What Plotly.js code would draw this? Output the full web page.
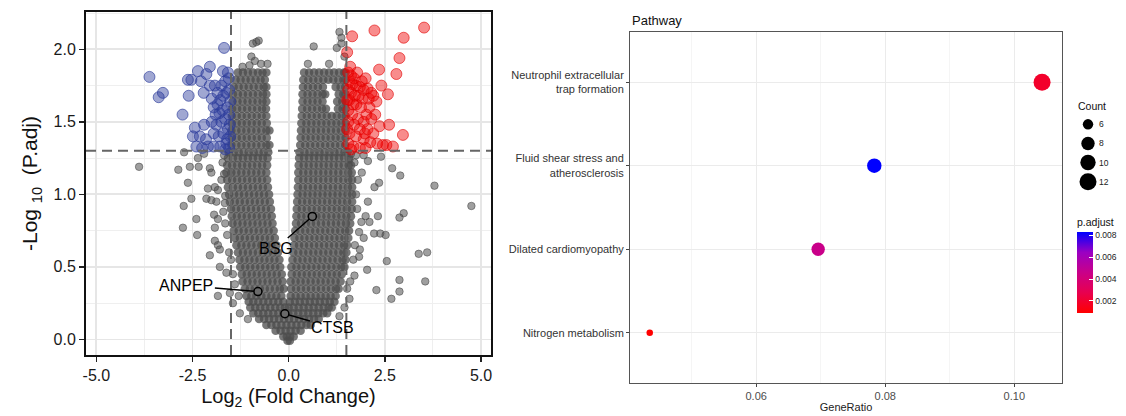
<!DOCTYPE html>
<html><head><meta charset="utf-8">
<script src="https://cdn.plot.ly/plotly-3.0.1.min.js"></script>
<style>html,body{margin:0;padding:0;background:#fff}#chart{width:1126px;height:416px}</style>
</head><body><div id="chart"></div>
<script>
// ---------- Volcano plot data (log2 fold change, -log10 p.adj) ----------
const grayRowsY = [-0.01,0.02,0.06,0.10,0.14,0.18,0.22,0.26,0.30,0.35,0.40,0.45,0.50,0.55,0.60,0.65,0.70,0.75,0.80,0.85,0.90,0.95,1.00,1.05,1.10,1.15,1.20,1.25,1.29,1.34,1.39,1.44,1.49,1.54,1.59,1.64,1.69,1.74,1.79,1.84];
const grayRowsX = [
 [-0.03,0.03],
 [-0.14,-0.05,0.04,0.13],
 [-0.34,-0.21,-0.08,0.05,0.18,0.31],
 [-0.58,-0.45,-0.32,-0.19,-0.06,0.07,0.2,0.33,0.46,0.57],
 [-0.77,-0.64,-0.51,-0.38,-0.25,-0.12,0.01,0.14,0.27,0.4,0.53,0.66,0.78],
 [-0.92,-0.79,-0.66,-0.53,-0.4,-0.27,-0.14,-0.01,0.12,0.25,0.38,0.51,0.64,0.77,0.9,1.0],
 [-1.0,-0.87,-0.74,-0.61,-0.48,-0.35,-0.22,-0.1,0.0,0.13,0.26,0.39,0.52,0.65,0.78,0.91,1.04,1.12],
 [-1.04,-0.92,-0.79,-0.66,-0.53,-0.4,-0.27,-0.14,0.03,0.16,0.29,0.42,0.55,0.68,0.81,0.94,1.07,1.19],
 [-1.1,-0.97,-0.84,-0.71,-0.58,-0.45,-0.32,-0.19,0.05,0.18,0.31,0.44,0.57,0.7,0.83,0.96,1.09,1.22],
 [-1.14,-1.01,-0.88,-0.75,-0.62,-0.49,-0.36,-0.23,-0.13,0.06,0.19,0.32,0.45,0.58,0.71,0.84,0.97,1.1,1.23,1.3],
 [-1.2,-1.07,-0.94,-0.81,-0.68,-0.55,-0.42,-0.29,-0.16,0.05,0.18,0.31,0.44,0.57,0.7,0.83,0.96,1.09,1.22,1.35],
 [-1.22,-1.09,-0.96,-0.83,-0.7,-0.57,-0.44,-0.31,-0.18,0.08,0.21,0.34,0.47,0.6,0.73,0.86,0.99,1.12,1.25,1.38],
 [-1.26,-1.13,-1.0,-0.87,-0.74,-0.61,-0.48,-0.35,-0.22,0.07,0.2,0.33,0.46,0.59,0.72,0.85,0.98,1.11,1.24,1.37,1.45],
 [-1.28,-1.15,-1.02,-0.89,-0.76,-0.63,-0.5,-0.37,-0.24,0.1,0.23,0.36,0.49,0.62,0.75,0.88,1.01,1.14,1.27,1.4,1.48],
 [-1.32,-1.19,-1.06,-0.93,-0.8,-0.67,-0.54,-0.41,-0.28,0.12,0.25,0.38,0.51,0.64,0.77,0.9,1.03,1.16,1.29,1.42,1.5],
 [-1.36,-1.23,-1.1,-0.97,-0.84,-0.71,-0.58,-0.45,-0.32,0.14,0.27,0.4,0.53,0.66,0.79,0.92,1.05,1.18,1.31,1.44,1.52],
 [-1.4,-1.27,-1.14,-1.01,-0.88,-0.75,-0.62,-0.49,-0.36,0.15,0.28,0.41,0.54,0.67,0.8,0.93,1.06,1.19,1.32,1.45,1.55],
 [-1.43,-1.3,-1.17,-1.04,-0.91,-0.78,-0.65,-0.52,-0.39,0.17,0.3,0.43,0.56,0.69,0.82,0.95,1.08,1.21,1.34,1.47,1.57],
 [-1.46,-1.33,-1.2,-1.07,-0.94,-0.81,-0.68,-0.55,-0.42,0.19,0.32,0.45,0.58,0.71,0.84,0.97,1.1,1.23,1.36,1.49,1.6],
 [-1.48,-1.35,-1.22,-1.09,-0.96,-0.83,-0.7,-0.57,-0.44,0.2,0.33,0.46,0.59,0.72,0.85,0.98,1.11,1.24,1.37,1.5,1.62],
 [-1.5,-1.37,-1.24,-1.11,-0.98,-0.85,-0.72,-0.59,-0.46,0.21,0.34,0.47,0.6,0.73,0.86,0.99,1.12,1.25,1.38,1.51,1.64],
 [-1.53,-1.4,-1.27,-1.14,-1.01,-0.88,-0.75,-0.62,-0.49,0.22,0.35,0.48,0.61,0.74,0.87,1.0,1.13,1.26,1.39,1.52,1.65],
 [-1.55,-1.42,-1.29,-1.16,-1.03,-0.9,-0.77,-0.64,-0.51,0.23,0.36,0.49,0.62,0.75,0.88,1.01,1.14,1.27,1.4,1.53,1.65],
 [-1.58,-1.45,-1.32,-1.19,-1.06,-0.93,-0.8,-0.67,-0.54,0.24,0.37,0.5,0.63,0.76,0.89,1.02,1.15,1.28,1.41,1.54,1.65],
 [-1.6,-1.47,-1.34,-1.21,-1.08,-0.95,-0.82,-0.69,-0.56,0.25,0.38,0.51,0.64,0.77,0.9,1.03,1.16,1.29,1.42,1.55,1.65],
 [-1.62,-1.49,-1.36,-1.23,-1.1,-0.97,-0.84,-0.71,-0.58,0.25,0.38,0.51,0.64,0.77,0.9,1.03,1.16,1.29,1.42,1.55,1.64],
 [-1.6,-1.47,-1.34,-1.21,-1.08,-0.95,-0.82,-0.69,-0.56,0.26,0.39,0.52,0.65,0.78,0.91,1.04,1.17,1.3,1.43,1.56,1.62],
 [-1.58,-1.45,-1.32,-1.19,-1.06,-0.93,-0.8,-0.67,-0.55,0.27,0.4,0.53,0.66,0.79,0.92,1.05,1.18,1.31,1.44,1.56],
 [-1.56,-1.43,-1.3,-1.17,-1.04,-0.91,-0.78,-0.65,-0.53,0.28,0.41,0.54,0.67,0.8,0.93,1.06,1.19,1.32,1.45,1.53],
 [-1.49,-1.36,-1.23,-1.1,-0.97,-0.84,-0.71,-0.58,-0.5,0.3,0.43,0.56,0.69,0.82,0.95,1.08,1.21,1.34,1.47],
 [-1.48,-1.35,-1.22,-1.09,-0.96,-0.83,-0.7,-0.57,0.31,0.44,0.57,0.7,0.83,0.96,1.09,1.22,1.35,1.48],
 [-1.49,-1.36,-1.23,-1.1,-0.97,-0.84,-0.71,-0.58,-0.5,0.32,0.45,0.58,0.71,0.84,0.97,1.1,1.23,1.36,1.48],
 [-1.48,-1.35,-1.22,-1.09,-0.96,-0.83,-0.7,-0.57,0.33,0.46,0.59,0.72,0.85,0.98,1.11,1.24,1.37,1.48],
 [-1.48,-1.35,-1.22,-1.09,-0.96,-0.83,-0.7,-0.58,0.34,0.47,0.6,0.73,0.86,0.99,1.12,1.25,1.38,1.48],
 [-1.47,-1.34,-1.21,-1.08,-0.95,-0.82,-0.69,-0.59,0.35,0.48,0.61,0.74,0.87,0.97,1.28,1.4,1.48],
 [-1.46,-1.33,-1.2,-1.07,-0.94,-0.81,-0.68,-0.58,0.36,0.49,0.62,0.75,0.88,1.26,1.39,1.48],
 [-1.45,-1.32,-1.19,-1.06,-0.93,-0.8,-0.67,-0.58,0.36,0.49,0.62,0.75,0.88,0.95,1.3,1.42,1.48],
 [-1.43,-1.3,-1.17,-1.04,-0.91,-0.78,-0.65,-0.58,0.37,0.5,0.63,0.76,0.89,1.22,1.35,1.47],
 [-1.38,-1.25,-1.12,-0.99,-0.86,-0.73,-0.62,0.38,0.51,0.64,0.77,0.9,1.03,1.16,1.29,1.42,1.48],
 [-1.32,-1.19,-1.06,-0.93,-0.8,-0.68,-0.58,0.4,0.53,0.66,0.79,0.92,1.05,1.18,1.31,1.44,1.48]
];
const grayOutX = [-3.89,-2.87,-2.57,-2.34,-2.72,-2.36,-2.05,-2.01,-2.62,-2.10,-1.92,-1.84,-2.53,-2.14,-2.01,-1.88,-2.73,-1.66,-1.94,-2.40,-1.84,-2.75,-1.92,-2.38,-1.92,-1.84,-1.79,-2.05,-1.79,-1.62,-1.84,-1.53,-1.45,-1.27,-1.06,-1.72,-1.75,-1.70,-1.65,-1.60,-1.55,-1.50,-1.45,-1.40,-1.30,-0.93,-0.84,-0.78,-0.97,-0.88,-1.02,-0.72,-1.20,-0.55,-2.20,-1.68,-1.68,-1.65,
  2.06,2.69,2.90,2.35,2.23,3.79,4.75,2.99,2.88,2.32,2.06,1.83,2.22,2.38,2.52,1.83,2.04,2.55,3.38,3.60,3.55,2.88,2.28,2.88,2.67,1.71,1.58,1.45,1.32,1.58,1.71,2.00,2.10,1.89,1.80,1.75,1.78,1.72,1.68,1.60,1.52,1.90,1.85,1.95,0.65,1.25,1.32,1.37,1.37,1.45,0.50,1.05,1.62,1.75,1.95,2.40];
const grayOutY = [1.19,1.17,1.19,1.19,1.29,1.25,1.18,1.15,1.08,1.04,1.05,1.03,0.97,0.97,0.96,0.95,0.92,0.94,0.86,0.83,0.83,0.77,0.77,0.72,0.68,0.65,0.62,0.58,0.50,0.46,0.30,0.32,0.25,0.18,0.14,1.22,1.10,0.88,0.80,0.72,0.60,0.55,0.45,0.38,0.30,2.04,2.05,2.06,1.95,1.92,1.89,1.90,1.88,1.90,1.28,1.27,1.14,0.99,
  1.23,1.18,1.13,1.08,1.05,1.06,0.92,0.87,0.84,0.85,0.95,0.74,0.73,0.73,0.72,0.57,0.48,0.54,0.59,0.60,0.40,0.41,0.34,0.33,0.28,0.44,0.28,0.22,0.16,1.24,1.22,0.85,0.81,0.81,1.10,1.00,0.90,0.65,0.55,0.40,0.35,1.15,0.62,0.70,2.02,2.01,2.12,2.08,2.04,1.95,1.90,1.90,1.28,1.27,1.27,1.26];
const downX = [-3.62,-3.38,-3.27,-2.76,-2.60,-2.62,-2.53,-2.36,-2.05,-2.14,-2.21,-2.05,-1.71,-1.58,-1.75,-1.68,-2.44,-2.31,-2.40,-2.10,-1.62,-2.49,-2.28,-2.00,-1.95,-1.85,-1.78,-1.70,-1.62,-1.55,-1.90,-1.80,-1.72,-1.60,-1.55,-2.00,-1.88,-1.75,-1.65,-1.58,-2.20,-1.95,-1.82,-1.70,-1.60,-2.15,-1.95,-1.78,-1.65,-1.55,-2.25,-1.85,-1.92,-1.56,-1.65,-1.52,-1.53,-1.52];
const downY = [1.81,1.67,1.70,1.55,1.68,1.79,1.79,1.85,1.88,1.83,1.70,1.75,1.85,1.84,1.75,2.01,1.46,1.40,1.33,1.33,1.35,1.40,1.78,1.66,1.60,1.62,1.65,1.68,1.70,1.72,1.55,1.56,1.58,1.60,1.55,1.50,1.48,1.50,1.52,1.45,1.48,1.42,1.40,1.42,1.38,1.38,1.33,1.33,1.31,1.32,1.32,1.70,1.75,1.80,1.78,1.64,1.48,1.40];
const upX = [3.52,2.23,2.99,1.65,1.52,2.88,2.35,2.80,2.58,2.97,2.71,2.36,2.54,2.28,2.41,2.02,1.76,2.61,1.55,1.62,1.70,1.58,1.66,1.75,1.85,1.95,2.05,2.15,1.55,1.62,1.72,1.82,1.92,2.08,2.20,1.57,1.68,1.88,2.10,1.55,1.65,1.80,1.95,2.15,1.55,1.70,1.85,2.05,2.20,1.58,1.75,1.95,2.12,2.30,1.55,1.68,1.85,2.00,2.45,1.62,1.90,2.00,1.78,1.52,1.52,1.60,2.25,1.98];
const upY = [2.15,2.13,2.08,2.09,1.98,1.94,1.86,1.83,1.69,1.41,1.33,1.47,1.34,1.64,1.75,1.55,1.62,1.48,1.84,1.82,1.80,1.78,1.76,1.75,1.74,1.72,1.73,1.70,1.72,1.70,1.68,1.68,1.66,1.66,1.68,1.65,1.62,1.60,1.60,1.58,1.55,1.52,1.50,1.52,1.50,1.48,1.45,1.45,1.42,1.42,1.40,1.38,1.36,1.35,1.35,1.33,1.32,1.32,1.34,1.31,1.78,1.80,1.84,1.65,1.45,1.88,1.55,1.42];
const labelGenes = ['BSG','ANPEP','CTSB'];
const labelX = [0.615,-0.80,-0.10];
const labelY = [0.848,0.33,0.177];
const labelTextX = [-0.32,-2.66,1.15];
const labelTextY = [0.63,0.37,0.08];
const fcCut = 1.5, pCut = 1.301;
const xTicks = [-5,-2.5,0,2.5,5], xTickText = ['-5.0','-2.5','0.0','2.5','5.0'];
const yTicks = [0,0.5,1,1.5,2], yTickText = ['0.0','0.5','1.0','1.5','2.0'];

// ---------- KEGG dot plot data ----------
const pathways = ['Neutrophil extracellular<br>trap formation','Fluid shear stress and<br>atherosclerosis','Dilated cardiomyopathy','Nitrogen metabolism'];
const geneRatio = [0.1043,0.0783,0.0696,0.0435];
const counts = [12,9,8,5];
const pAdjust = [0.0019,0.0083,0.0046,0.0009];
const countLegend = [6,8,10,12];
const pTicks = [0.002,0.004,0.006,0.008], pTickText = ['0.002','0.004','0.006','0.008'];
const grTicks = [0.06,0.08,0.10], grTickText = ['0.06','0.08','0.10'];

// flatten gray rows
const denseX = [], denseY = [];
grayRowsX.forEach((row,i)=>row.forEach(v=>{denseX.push(v);denseY.push(grayRowsY[i]);}));

const cMin = Math.min(...counts), cMax = Math.max(...counts);
const sz = c => 6.5 + 10.5*Math.sqrt(Math.max(0,(c-cMin))/(cMax-cMin));

const F = 'Liberation Sans, Arial, sans-serif';
const traces = [
 {type:'scatter',mode:'markers',x:grayOutX,y:grayOutY,xaxis:'x',yaxis:'y',hoverinfo:'skip',
  marker:{size:7.5,color:'rgba(80,80,80,0.55)',line:{color:'rgba(70,70,70,0.55)',width:1}}},
 {type:'scatter',mode:'markers',x:denseX,y:denseY,xaxis:'x',yaxis:'y',hoverinfo:'skip',
  marker:{size:8.5,color:'rgba(76,76,76,0.76)',line:{width:0}}},
 {type:'scatter',mode:'markers',x:downX,y:downY,xaxis:'x',yaxis:'y',
  marker:{size:11,color:'rgba(45,60,155,0.45)',line:{color:'rgba(45,60,155,0.65)',width:1}}},
 {type:'scatter',mode:'markers',x:upX,y:upY,xaxis:'x',yaxis:'y',
  marker:{size:11,color:'rgba(240,0,0,0.45)',line:{color:'rgba(225,0,0,0.6)',width:1}}},
 {type:'scatter',mode:'markers',x:labelX,y:labelY,xaxis:'x',yaxis:'y',
  marker:{size:8,color:'#6a6a6a',line:{color:'#000',width:1.5}}},
 {type:'scatter',mode:'markers',x:geneRatio,y:pathways,xaxis:'x2',yaxis:'y2',
  marker:{size:counts.map(sz),color:pAdjust,cmin:0.0009,cmax:0.0083,opacity:1,
   colorscale:[[0,'#FF0000'],[0.25,'rgb(232,0,79)'],[0.5,'rgb(201,0,137)'],[0.75,'rgb(154,0,195)'],[1,'#0000FF']],
   line:{width:0},
   colorbar:{x:1077/1126,xanchor:'left',y:1-215/416,yanchor:'top',len:98,lenmode:'pixels',thickness:16,
    outlinewidth:0,xpad:0,ypad:0,tickvals:pTicks,ticktext:pTickText,ticks:'inside',ticklen:4,tickcolor:'#fff',
    tickfont:{size:8.5,color:'#222',family:F},title:{text:'p.adjust',side:'top',font:{size:10.5,color:'#111',family:F}}}}},
 {type:'scatter',mode:'markers',x:countLegend.map(()=>0),y:countLegend,xaxis:'x3',yaxis:'y3',
  marker:{size:countLegend.map(sz),color:'#000',opacity:1,line:{width:0}}}
];

const shapes = [
 {type:'line',xref:'x',yref:'y domain',x0:-fcCut,x1:-fcCut,y0:0,y1:1,line:{color:'#666',width:2,dash:'10px,6px'},layer:'above'},
 {type:'line',xref:'x',yref:'y domain',x0:fcCut,x1:fcCut,y0:0,y1:1,line:{color:'#666',width:2,dash:'10px,6px'},layer:'above'},
 {type:'line',xref:'x domain',yref:'y',x0:0,x1:1,y0:pCut,y1:pCut,line:{color:'#666',width:2,dash:'10px,6px'},layer:'above'}
];

const annotations = labelGenes.map((g,i)=>({
  x:labelX[i],y:labelY[i],xref:'x',yref:'y',ax:labelTextX[i],ay:labelTextY[i],axref:'x',ayref:'y',
  text:g,showarrow:true,arrowhead:0,arrowwidth:1.5,arrowcolor:'#000',standoff:4,font:{size:16,color:'#000',family:F}
}));
annotations.push({xref:'paper',yref:'paper',x:630/1126,y:1-20/416,xanchor:'left',yanchor:'middle',text:'Pathway',showarrow:false,font:{size:13,color:'#111',family:F}});
annotations.push({xref:'paper',yref:'paper',x:1076/1126,y:1-106/416,xanchor:'left',yanchor:'middle',text:'Count',showarrow:false,font:{size:10.5,color:'#111',family:F}});

const layout = {
 width:1126,height:416,margin:{l:0,r:0,t:0,b:0},paper_bgcolor:'#fff',plot_bgcolor:'#fff',showlegend:false,
 font:{family:F,color:'#222'},
 xaxis:{domain:[86/1126,491/1126],anchor:'y',range:[-5.27,5.26],tickvals:xTicks,ticktext:xTickText,
  ticks:'outside',ticklen:5,tickwidth:1.5,tickcolor:'#222',tickfont:{size:16,color:'#1a1a1a'},
  showline:true,mirror:true,linecolor:'#111',linewidth:2,zeroline:false,
  showgrid:true,gridcolor:'#e6e6e6',gridwidth:1.8,
  minor:{tickmode:'linear',tick0:0,dtick:1.25,showgrid:true,gridcolor:'#efefef',gridwidth:1,ticks:''},
  title:{text:'Log<sub>2</sub> (Fold Change)',font:{size:20,color:'#111'},standoff:6}},
 yaxis:{domain:[(416-355)/416,(416-12)/416],anchor:'x',range:[-0.1075,2.2575],tickvals:yTicks,ticktext:yTickText,
  ticks:'outside',ticklen:5,tickwidth:1.5,tickcolor:'#222',tickfont:{size:16,color:'#1a1a1a'},
  showline:true,mirror:true,linecolor:'#111',linewidth:2,zeroline:false,
  showgrid:true,gridcolor:'#e6e6e6',gridwidth:1.8,
  minor:{tickmode:'linear',tick0:0,dtick:0.25,showgrid:true,gridcolor:'#efefef',gridwidth:1,ticks:''},
  title:{text:'-Log <sub>10</sub>  (P.adj)',font:{size:21,color:'#111'},standoff:10}},
 xaxis2:{domain:[630/1126,1062/1126],anchor:'y2',range:[0.04044,0.10739],tickvals:grTicks,ticktext:grTickText,
  ticks:'outside',ticklen:3,tickcolor:'#444',tickfont:{size:11,color:'#4d4d4d'},
  showline:true,mirror:true,linecolor:'#555',linewidth:1,zeroline:false,
  showgrid:true,gridcolor:'#ebebeb',gridwidth:1,
  minor:{tickmode:'linear',tick0:0,dtick:0.01,showgrid:true,gridcolor:'#f3f3f3',gridwidth:0.8,ticks:''},
  title:{text:'GeneRatio',font:{size:11,color:'#222'},standoff:2}},
 yaxis2:{domain:[(416-383)/416,(416-32)/416],anchor:'x2',type:'category',
  categoryorder:'array',categoryarray:pathways.slice().reverse(),range:[-0.6,3.6],
  ticks:'outside',ticklen:3,tickcolor:'#444',tickfont:{size:11,color:'#333'},
  showline:true,mirror:true,linecolor:'#555',linewidth:1,zeroline:false,
  showgrid:true,gridcolor:'#ebebeb',gridwidth:1},
 xaxis3:{domain:[1078/1126,1098/1126],anchor:'y3',range:[-1,1],visible:false},
 yaxis3:{domain:[(416-196)/416,(416-110)/416],anchor:'x3',range:[13.5,4.5],side:'right',
  tickvals:countLegend,ticktext:countLegend.map(String),ticks:'',showline:false,showgrid:false,zeroline:false,
  tickfont:{size:8.5,color:'#222'}},
 shapes:shapes,annotations:annotations
};
Plotly.newPlot('chart',traces,layout,{staticPlot:true,displayModeBar:false});
</script></body></html>
